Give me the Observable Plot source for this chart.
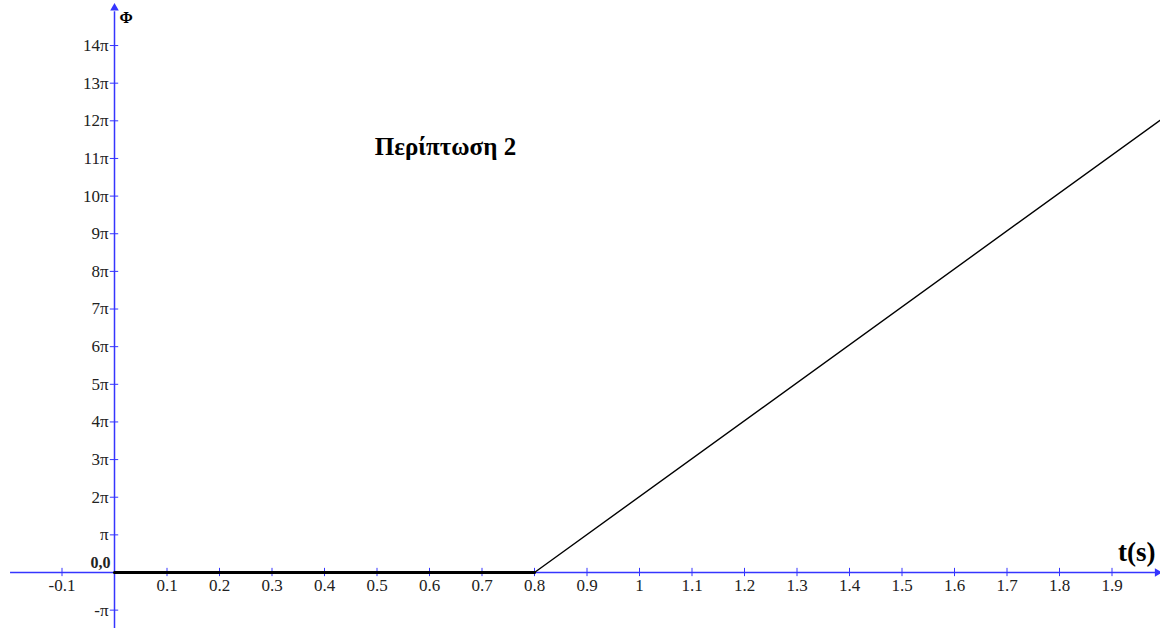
<!DOCTYPE html>
<html>
<head>
<meta charset="utf-8">
<script src="https://cdn.jsdelivr.net/npm/d3@7"></script>
<script src="https://cdn.jsdelivr.net/npm/@observablehq/plot@0.6"></script>
<style>
  html, body { margin: 0; padding: 0; background: #fff; }
  #chart { width: 1160px; height: 628px; }
</style>
</head>
<body>
<div id="chart"></div>
<script>
// Data (Φ in units of π)
const tValues = [0, 0.8, 2];
const phiValues = [0, 0, 12.1];
const xTicks = [-0.1, 0.1, 0.2, 0.3, 0.4, 0.5, 0.6, 0.7, 0.8, 0.9, 1, 1.1, 1.2, 1.3, 1.4, 1.5, 1.6, 1.7, 1.8, 1.9];
const xTickLabels = ["-0.1", "0.1", "0.2", "0.3", "0.4", "0.5", "0.6", "0.7", "0.8", "0.9", "1", "1.1", "1.2", "1.3", "1.4", "1.5", "1.6", "1.7", "1.8", "1.9"];
const yTicks = [-1, 1, 2, 3, 4, 5, 6, 7, 8, 9, 10, 11, 12, 13, 14];
const yTickLabels = ["-π", "π", "2π", "3π", "4π", "5π", "6π", "7π", "8π", "9π", "10π", "11π", "12π", "13π", "14π"];
const titleText = "Περίπτωση 2";
const xLabel = "t(s)";
const yLabel = "Φ";
const originLabel = "0,0";

const points = tValues.map((t, i) => ({t, phi: phiValues[i]}));
const flatPart = points.slice(0, 2);
const risingPart = points.slice(1);

const axisColor = "#3535ff";
const xDomain = [-114 / 525, 1046 / 525];
const yDomain = [-56 / 37.64, 572 / 37.64];

const chart = Plot.plot({
  width: 1160,
  height: 628,
  margin: 0,
  x: {domain: xDomain, axis: null},
  y: {domain: yDomain, axis: null},
  style: {fontFamily: "'Liberation Serif', 'DejaVu Serif', serif", background: "#fff"},
  marks: [
    // axes lines
    Plot.ruleY([0], {x1: -0.198, x2: xDomain[1], stroke: axisColor, strokeWidth: 1.5}),
    Plot.ruleX([0], {y1: yDomain[0], y2: 14.9, stroke: axisColor, strokeWidth: 1.5}),
    // arrow heads
    Plot.dot([{t: 0, phi: 15.0}], {x: "t", y: "phi", symbol: "triangle", r: 3.2, fill: axisColor, stroke: "none"}),
    Plot.dot([{t: xDomain[1] - 0.006, phi: 0}], {x: "t", y: "phi", symbol: "triangle", r: 3.2, rotate: 90, fill: axisColor, stroke: "none"}),
    // tick marks
    Plot.ruleX(xTicks, {x: d => d, y1: -0.11, y2: 0.11, stroke: axisColor, strokeWidth: 1}),
    Plot.ruleY(yTicks, {y: d => d, x1: -0.008, x2: 0.008, stroke: axisColor, strokeWidth: 1}),
    // tick labels
    Plot.text(xTicks, {x: d => d, y: 0, text: (d, i) => xTickLabels[i], dy: 13, fontSize: 17, fill: "#222"}),
    Plot.text(yTicks, {x: 0, y: d => d, text: (d, i) => yTickLabels[i], dx: -6, textAnchor: "end", fontSize: 17, fill: "#222"}),
    Plot.text([0], {x: 0, y: 0, text: [originLabel], dx: -4, dy: -10, textAnchor: "end", fontSize: 16, fontWeight: "bold", fill: "#222"}),
    // data line
    Plot.line(flatPart, {x: "t", y: "phi", stroke: "#000", strokeWidth: 3}),
    Plot.line(risingPart, {x: "t", y: "phi", stroke: "#000", strokeWidth: 1.4, clip: true}),
    // labels
    Plot.text([0], {x: 0, y: 15.2, text: [yLabel], dx: 5, dy: 18, textAnchor: "start", fontSize: 16, fontWeight: "bold", fill: "#000"}),
    Plot.text([0], {x: xDomain[1], y: 0, text: [xLabel], dx: -5, dy: -20, textAnchor: "end", fontSize: 27, fontWeight: "bold", fill: "#000"}),
    Plot.text([0], {x: (445 - 114) / 525, y: (572 - 146) / 37.64, text: [titleText], fontSize: 25, fontWeight: "bold", fill: "#000"})
  ]
});
document.getElementById("chart").appendChild(chart);
</script>
</body>
</html>
